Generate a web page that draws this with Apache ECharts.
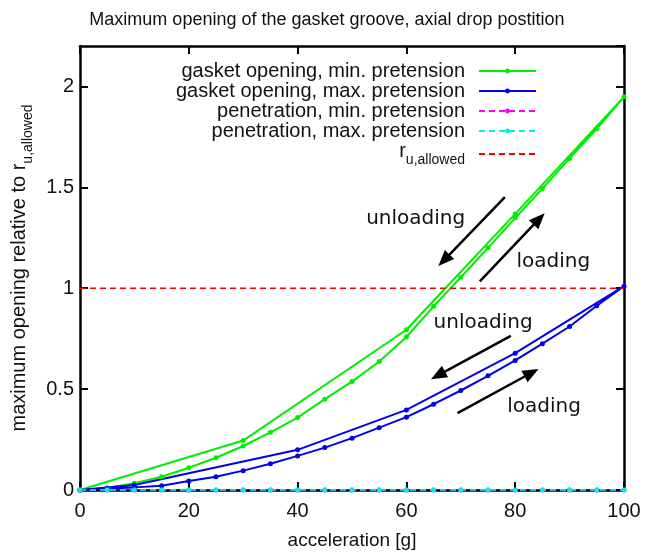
<!DOCTYPE html>
<html>
<head>
<meta charset="utf-8">
<script src="https://cdn.jsdelivr.net/npm/echarts@6/dist/echarts.min.js"></script>
<style>
  html, body { margin: 0; padding: 0; background: #fff; }
  #chart { width: 654px; height: 553px; }
</style>
</head>
<body>
<div id="chart"></div>
<script>
// acceleration steps [g]
const loadSteps = [0, 5, 10, 15, 20, 25, 30, 35, 40, 45, 50, 55, 60, 65, 70, 75, 80, 85, 90, 95, 100];

// gasket opening, min. pretension: loading branch then unloading branch
const minLoad = [0, 0.011, 0.033, 0.066, 0.11, 0.16, 0.218, 0.286, 0.359, 0.45, 0.537, 0.637, 0.758, 0.91, 1.054, 1.2, 1.348, 1.494, 1.643, 1.79, 1.948];
const minUnloadX = [80, 60, 30, 0];
const minUnload = [1.368, 0.794, 0.245, 0];

// gasket opening, max. pretension: loading branch then unloading branch
const maxLoad = [0, 0.007, 0.013, 0.021, 0.045, 0.066, 0.096, 0.13, 0.169, 0.21, 0.257, 0.309, 0.361, 0.425, 0.493, 0.566, 0.642, 0.725, 0.81, 0.913, 1.01];
const maxUnloadX = [80, 60, 40, 10, 0];
const maxUnload = [0.678, 0.397, 0.199, 0.025, 0];

// penetration (zero over the whole range)
const penMin = [0, 0, 0, 0, 0, 0, 0, 0, 0, 0, 0, 0, 0, 0, 0, 0, 0, 0, 0, 0, 0];
const penMax = [0, 0, 0, 0, 0, 0, 0, 0, 0, 0, 0, 0, 0, 0, 0, 0, 0, 0, 0, 0, 0];

// allowed opening limit
const allowedX = [0, 100];
const allowed = [1, 1];

// axis ticks
const xTicks = [0, 20, 40, 60, 80, 100];
const yTicks = [0, 0.5, 1, 1.5, 2];

// direction arrows [x0, y0, x1, y1] and their labels [x, y, text]
const arrows = [
  [78.1, 1.451, 66.9, 1.138],
  [73.5, 1.034, 84.4, 1.343],
  [79.2, 0.764, 65.8, 0.568],
  [69.4, 0.381, 83.0, 0.581]
];
const arrowLabels = [
  [61.7, 1.345, 'unloading'],
  [87.0, 1.133, 'loading'],
  [74.1, 0.829, 'unloading'],
  [85.3, 0.412, 'loading']
];

const pairs = (xs, ys) => xs.map((x, i) => [x, ys[i]]);
const path = (xs1, ys1, xs2, ys2) => pairs(xs1, ys1).concat(pairs(xs2, ys2));

const FONT = 'Liberation Sans';
const TXT = '#111';
const FS = 20;

const chart = echarts.init(document.getElementById('chart'), null, { renderer: 'canvas' });

const axisCommon = {
  type: 'value',
  splitLine: { show: false },
  axisLine: { show: true, onZero: false, lineStyle: { color: '#000', width: 2.5 } },
  axisTick: { show: true, inside: true, length: 8, lineStyle: { color: '#000', width: 2 } }
};

const yFmt = v => {
  const k = v / 0.5;
  return Math.abs(k - Math.round(k)) < 1e-6 ? String(+v.toFixed(1)) : '';
};

const lineSeries = (name, data, color, dashed, width) => ({
  name,
  type: 'line',
  data,
  symbol: 'circle',
  symbolSize: 5,
  showSymbol: true,
  clip: false,
  color,
  itemStyle: { color },
  lineStyle: { color, width, type: dashed ? [6, 4] : 'solid' },
  animation: false
});

chart.setOption({
  animation: false,
  backgroundColor: '#fff',
  textStyle: { fontFamily: FONT, color: TXT },
  title: {
    text: 'Maximum opening of the gasket groove, axial drop postition',
    left: 'center',
    top: 6,
    textStyle: { fontFamily: FONT, fontSize: 18, fontWeight: 'normal', color: TXT }
  },
  legend: {
    data: [
      'gasket opening, min. pretension',
      'gasket opening, max. pretension',
      'penetration, min. pretension',
      'penetration, max. pretension',
      { name: 'allowed', itemStyle: { opacity: 0 } }
    ],
    orient: 'vertical',
    align: 'right',
    right: 117,
    top: 61,
    padding: 0,
    itemGap: 0,
    itemWidth: 57,
    itemHeight: 6,
    formatter: n => n === 'allowed' ? '{r|r}{s|u,allowed}' : n,
    textStyle: {
      fontFamily: FONT, fontSize: FS, color: TXT, lineHeight: 20,
      padding: [0, 9, 0, 0],
      rich: {
        r: { fontFamily: FONT, fontSize: FS, color: TXT, lineHeight: 26, verticalAlign: 'top' },
        s: { fontFamily: FONT, fontSize: 14, color: TXT, lineHeight: 26, verticalAlign: 'bottom' }
      }
    }
  },
  grid: { left: 80, right: 30, top: 46, bottom: 63, containLabel: false, outerBoundsMode: 'none' },
  xAxis: [
    Object.assign({}, axisCommon, {
      min: xTicks[0], max: xTicks[xTicks.length - 1], interval: xTicks[1] - xTicks[0],
      position: 'bottom',
      name: 'acceleration [g]',
      nameLocation: 'middle',
      nameGap: 41,
      nameTextStyle: { fontFamily: FONT, fontSize: 19, color: TXT },
      axisLabel: { fontFamily: FONT, fontSize: FS, color: TXT, margin: 11 }
    }),
    Object.assign({}, axisCommon, {
      min: xTicks[0], max: xTicks[xTicks.length - 1], interval: xTicks[1] - xTicks[0],
      position: 'top',
      axisLabel: { show: false }
    })
  ],
  yAxis: [
    Object.assign({}, axisCommon, {
      min: yTicks[0], max: 2.2, interval: yTicks[1] - yTicks[0],
      position: 'left',
      name: '{n|maximum opening relative to r}{s|u,allowed}',
      nameLocation: 'middle',
      nameGap: 34,
      nameRotate: 90,
      nameTextStyle: {
        fontFamily: FONT, fontSize: FS, color: TXT,
        rich: {
          n: { fontFamily: FONT, fontSize: FS, color: TXT, lineHeight: 26, verticalAlign: 'top' },
          s: { fontFamily: FONT, fontSize: 14, color: TXT, lineHeight: 26, verticalAlign: 'bottom' }
        }
      },
      axisLabel: { fontFamily: FONT, fontSize: FS, color: TXT, margin: 6, formatter: yFmt, showMaxLabel: false }
    }),
    Object.assign({}, axisCommon, {
      min: yTicks[0], max: 2.2, interval: yTicks[1] - yTicks[0],
      position: 'right',
      axisLabel: { show: false }
    })
  ],
  series: [
    lineSeries('gasket opening, min. pretension', path(loadSteps, minLoad, minUnloadX, minUnload), '#00ee00', false, 2),
    lineSeries('gasket opening, max. pretension', path(loadSteps, maxLoad, maxUnloadX, maxUnload), '#0000ee', false, 2),
    lineSeries('penetration, min. pretension', pairs(loadSteps, penMin), '#ff00ff', true, 1.5),
    lineSeries('penetration, max. pretension', pairs(loadSteps, penMax), '#00eeee', true, 1.5),
    Object.assign(lineSeries('allowed', pairs(allowedX, allowed), '#ff0000', true, 1.5), { symbol: 'none', showSymbol: false }),
    {
      name: 'annotations',
      type: 'line',
      data: [],
      silent: true,
      markLine: {
        silent: true,
        animation: false,
        symbol: ['none', 'triangle'],
        symbolSize: [13, 16],
        lineStyle: { color: '#000', width: 2.5, type: 'solid' },
        itemStyle: { color: '#000' },
        label: { show: false },
        data: arrows.map(a => [{ coord: [a[0], a[1]] }, { coord: [a[2], a[3]] }])
      },
      markPoint: {
        silent: true,
        animation: false,
        symbol: 'circle',
        symbolSize: 0,
        label: {
          show: true,
          position: 'inside',
          fontFamily: 'DejaVu Sans',
          fontSize: 20,
          color: TXT,
          formatter: p => p.name
        },
        data: arrowLabels.map(l => ({ coord: [l[0], l[1]], name: l[2] }))
      }
    }
  ]
});
</script>
</body>
</html>
